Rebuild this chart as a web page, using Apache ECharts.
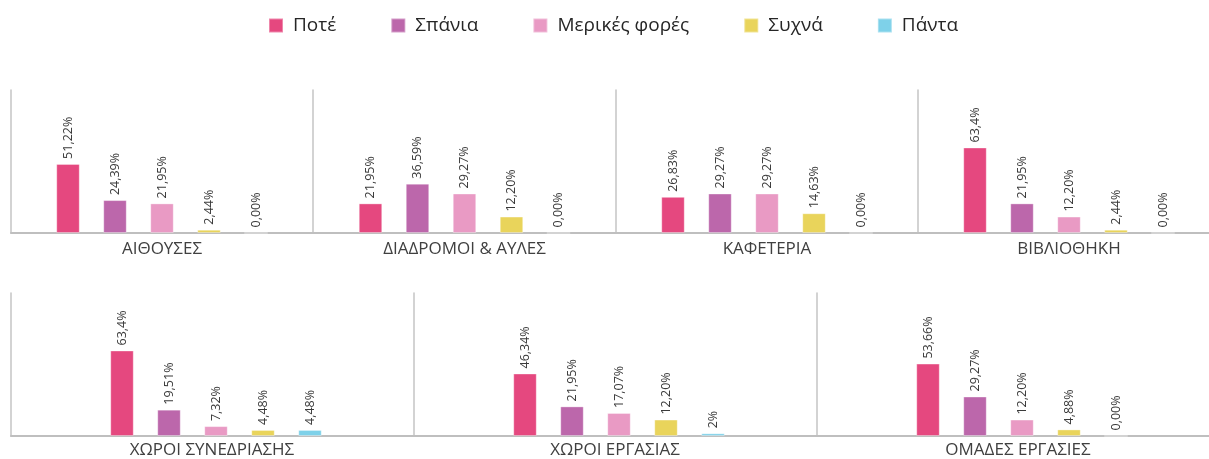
<!DOCTYPE html>
<html>
<head>
<meta charset="utf-8">
<script src="https://cdn.jsdelivr.net/npm/echarts@6/dist/echarts.min.js"></script>
<style>
html,body{margin:0;padding:0;background:#fff;overflow:hidden;}
#c{width:1232px;height:459px;}
</style>
</head>
<body>
<div id="c"></div>
<script>
const categories = ['ΑΙΘΟΥΣΕΣ','ΔΙΑΔΡΟΜΟΙ & ΑΥΛΕΣ','ΚΑΦΕΤΕΡΙΑ','ΒΙΒΛΙΟΘΗΚΗ','ΧΩΡΟΙ ΣΥΝΕΔΡΙΑΣΗΣ','ΧΩΡΟΙ ΕΡΓΑΣΙΑΣ','ΟΜΑΔΕΣ ΕΡΓΑΣΙΕΣ'];
const seriesNames = ['Ποτέ','Σπάνια','Μερικές φορές','Συχνά','Πάντα'];
const pote    = [51.22, 21.95, 26.83, 63.4, 63.4, 46.34, 53.66];
const spania  = [24.39, 36.59, 29.27, 21.95, 19.51, 21.95, 29.27];
const merikes = [21.95, 29.27, 29.27, 12.20, 7.32, 17.07, 12.20];
const sychna  = [2.44, 12.20, 14.63, 2.44, 4.48, 12.20, 4.88];
const panta   = [0, 0, 0, 0, 4.48, 2, 0];
const poteLabels    = ['51,22%','21,95%','26,83%','63,4%','63,4%','46,34%','53,66%'];
const spaniaLabels  = ['24,39%','36,59%','29,27%','21,95%','19,51%','21,95%','29,27%'];
const merikesLabels = ['21,95%','29,27%','29,27%','12,20%','7,32%','17,07%','12,20%'];
const sychnaLabels  = ['2,44%','12,20%','14,63%','2,44%','4,48%','12,20%','4,88%'];
const pantaLabels   = ['0,00%','0,00%','0,00%','0,00%','4,48%','2%','0,00%'];

const values = [pote, spania, merikes, sychna, panta];
const labels = [poteLabels, spaniaLabels, merikesLabels, sychnaLabels, pantaLabels];
const colors = ['#E5487F','#BC67AB','#E99AC4','#E9D45B','#7ED1E9'];

const FONT = '"Open Sans", "Noto Sans", sans-serif';
const layout = [
  {left:11, top:90, width:302, height:143},
  {left:313, top:90, width:303, height:143},
  {left:616, top:90, width:302, height:143},
  {left:918, top:90, width:302, height:143},
  {left:11, top:293, width:410, height:144, pad:8},
  {left:414, top:293, width:410, height:144, pad:8},
  {left:817, top:293, width:410, height:144, pad:8}
];

const grid = [], xAxis = [], yAxis = [], series = [];
categories.forEach((cat, i) => {
  const L = layout[i];
  grid.push({left:L.left, top:L.top, width:L.width, height:L.height, containLabel:false});
  xAxis.push({
    type:'category', gridIndex:i, data:[cat],
    axisTick:{show:false},
    axisLine:{show:true, lineStyle:{color:'#bfbfbf', width:2}},
    axisLabel:{fontSize:17, color:'#404040', fontFamily:FONT, margin: i < 4 ? 8 : 6,
      padding: L.pad ? [0, L.pad, 0, 0] : 0}
  });
  yAxis.push({
    type:'value', gridIndex:i, min:0, max:106,
    axisLine:{show:true, lineStyle:{color:'#c4c4c4', width:1.5}},
    axisLabel:{show:false}, axisTick:{show:false}, splitLine:{show:false}
  });
  seriesNames.forEach((name, s) => {
    series.push({
      type:'bar', name:name, xAxisIndex:i, yAxisIndex:i,
      barWidth:23.5, barGap:'100%',
      itemStyle:{color:colors[s], borderColor:'rgba(255,255,255,0.35)', borderWidth:1},
      label:{show:true, position:'top', rotate:90, align:'left', verticalAlign:'middle',
        distance:5, fontSize:12.5, color:'#3a3a3a', fontFamily:FONT,
        formatter:() => labels[s][i]},
      data:[values[s][i]]
    });
  });
});

const chart = echarts.init(document.getElementById('c'), null, {renderer:'canvas'});
chart.setOption({
  animation:false,
  color:colors,
  legend:{
    data:seriesNames, left:268, top:16, padding:0, itemWidth:14, itemHeight:14, itemGap:54,
    icon:'rect',
    textStyle:{fontSize:19, color:'#262626', fontFamily:FONT, padding:[0,0,0,5]}
  },
  grid:grid, xAxis:xAxis, yAxis:yAxis, series:series
});
</script>
</body>
</html>
